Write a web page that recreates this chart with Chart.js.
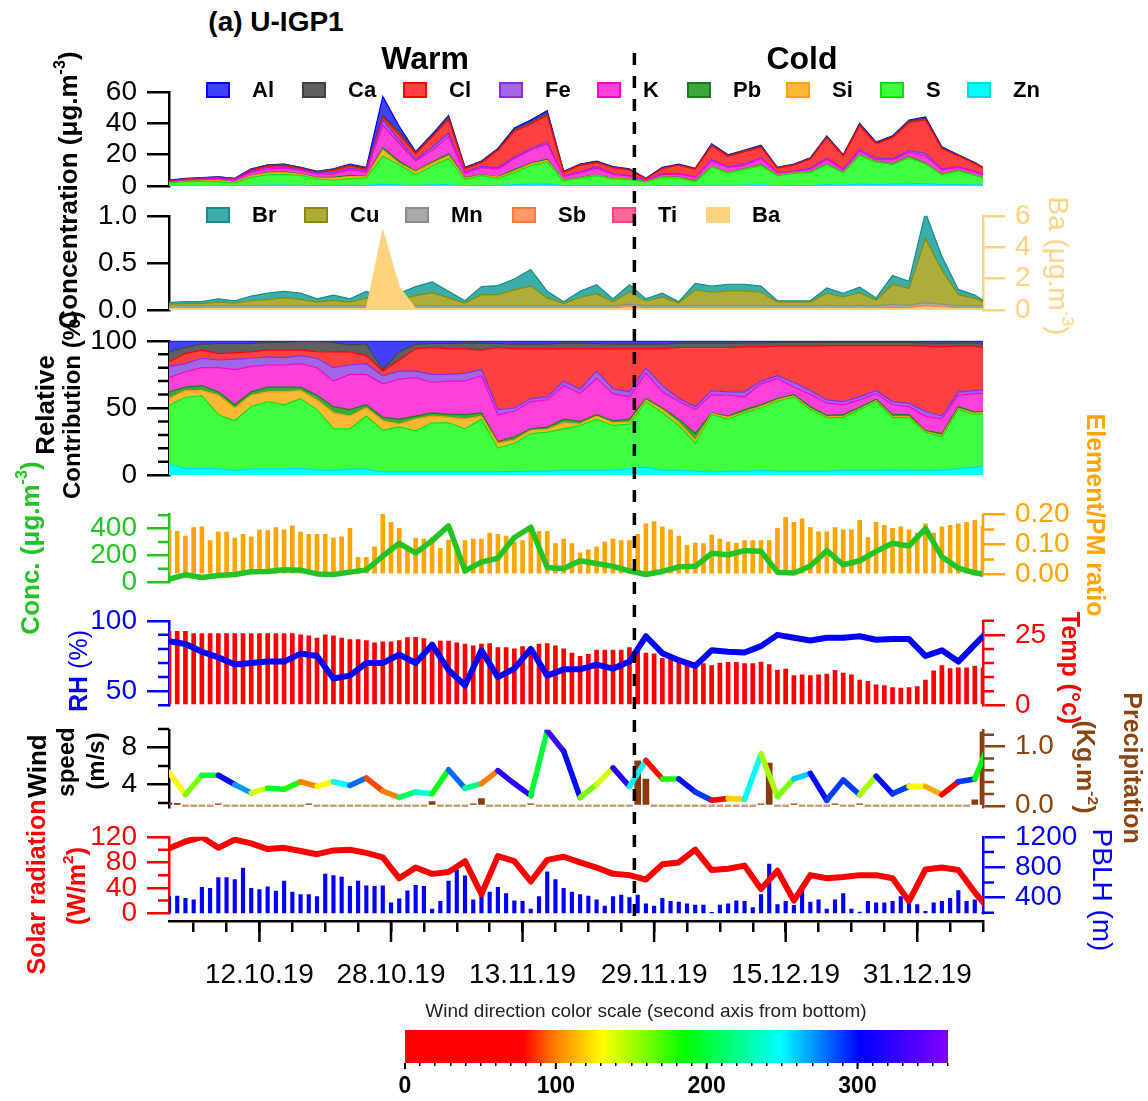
<!DOCTYPE html>
<html>
<head>
<meta charset="utf-8">
<title>U-IGP1</title>
<script src="https://cdn.jsdelivr.net/npm/chart.js@4.4.1/dist/chart.umd.min.js"></script>
<style>
  body { margin: 0; background: #fff; }
  #fig { position: relative; width: 1148px; height: 1101px; overflow: hidden;
         font-family: "Liberation Sans", Arial, sans-serif; color: #000; }
  #fig canvas { position: absolute; left: 0; }
  .t { position: absolute; white-space: nowrap; line-height: 1; }
  .t sup { font-size: 0.62em; line-height: 0; vertical-align: 0.75em; }
  .box { position: absolute; width: 24px; height: 16px; box-sizing: border-box; border: 2px solid; }
  svg { position: absolute; left: 0; top: 0; }
</style>
</head>
<body>
<div id="fig"></div>
<script>
// x axis = days since 01.10.19
const dateTicks = ['12.10.19', '28.10.19', '13.11.19', '29.11.19', '15.12.19', '31.12.19'];
const dateTickDays = [11, 27, 43, 59, 75, 91];
const seasons = ['Warm', 'Cold'];
const seasonSplitDay = 56.6;

// sampling days: most series every 2nd day, bars daily
const days2 = Array.from({ length: 51 }, (_, i) => 2 * i);
const days1 = Array.from({ length: 100 }, (_, i) => i);

// top panel: total of major elements (ug/m3)
const totalConc = [3.8, 5, 5.4, 6, 5, 11, 13.5, 14, 12, 9.5,
  11, 14, 12, 57, 38, 22, 33, 45, 12, 16,
  24, 37, 42, 48, 9.5, 14, 16, 12.5, 11, 5,
  12, 14, 11.4, 27, 20, 23, 26, 12, 14, 18,
  32, 20, 40, 28, 32, 42, 44, 25, 20, 15, 9];

// relative contribution of each element (%)
const shareZn = [8, 5, 5, 4.8, 3.6, 4.8, 4.8, 4.8, 5, 4,
  3.6, 4.5, 4.5, 2.4, 2.4, 2.4, 2.4, 2.4, 2.4, 2.4,
  2.4, 2.6, 3, 3, 3.6, 3.6, 3.6, 4, 4.8, 6,
  3.6, 3.6, 3, 2.4, 3, 3, 3.6, 3, 3, 3,
  3, 3.6, 3.6, 3.6, 4, 3.6, 3.6, 4, 4.8, 6, 8];
const shareS = [44, 53, 54, 40.2, 36.9, 46.2, 50, 47.6, 52, 44.8,
  30.9, 30, 39.5, 30.9, 33.6, 30.6, 36.6, 36.6, 32.1, 39.3,
  17.8, 21.2, 28, 29, 30.9, 33.4, 38.1, 33, 33.2, 48.8,
  42.8, 33.4, 20.8, 42.8, 38.7, 43.4, 46.4, 52, 55.3, 45.8,
  39.9, 39.3, 45.2, 51.2, 38.9, 39.3, 28.4, 24.6, 44, 39.2, 38];
const shareSi = [5, 5, 4, 14.5, 9.5, 8.5, 7.2, 9.6, 6, 7.2,
  11.9, 9.5, 6, 7.2, 2, 8.7, 5, 4, 7.2, 2.3,
  3.6, 2.2, 2.3, 2, 4.5, 1, 2.3, 2, 1.5, 1.2,
  2.4, 2, 2.2, 0.8, 1.3, 0.6, 1, 1, 0.7, 0.7,
  0.6, 0.6, 0.7, 0.7, 0.6, 0.6, 0.5, 0.9, 0.7, 0.8, 1];
const sharePb = [5, 2.5, 3.7, 2.5, 2.4, 2.5, 3.5, 3.5, 2.5, 3.5,
  4.6, 4.8, 2.4, 2.5, 3.7, 2.3, 2.4, 2.5, 3.3, 2.4,
  1.2, 2.6, 1.2, 1.7, 2.7, 2, 1, 1.5, 2.2, 1,
  1.2, 2.7, 5, 0.4, 1, 1.8, 1.4, 1, 1, 1.5,
  1, 1.5, 1, 1, 1.5, 1.5, 0.8, 1.5, 1.5, 1, 1];
const shareK = [10.6, 11.5, 13.3, 18, 26.2, 19, 16.5, 16.5, 17.5, 20.5,
  19, 26.2, 22.6, 25, 29.7, 28.6, 22.6, 24.5, 25, 27.6,
  20, 19, 20.3, 20.3, 25, 21, 27, 20.2, 16.6, 19,
  12, 13.1, 17.8, 13.6, 15.5, 9.5, 15.6, 15, 5.5, 9,
  9.1, 7.4, 5.5, 4.2, 7.4, 6, 10.7, 10.7, 8.5, 13.7, 13];
const shareFe = [8.4, 6, 7, 5.7, 7.8, 6, 6, 5.5, 6, 7,
  10, 7, 8, 6, 6, 4.8, 6, 5, 6, 4.6,
  3.8, 2.4, 2.2, 2.3, 3.3, 3, 5.4, 3.6, 3.7, 3.8,
  4.7, 2.2, 2.2, 3, 2.5, 3.7, 2, 2, 3.5, 3,
  2.4, 2.4, 2.3, 2.3, 2.4, 2.6, 3.6, 2.3, 2.5, 2.3, 3];
const shareCl = [3.5, 7.5, 6, 4.8, 4.6, 4.7, 5, 5.5, 4, 5,
  11.7, 9.7, 6, 3.4, 8.3, 16.6, 20, 19, 18, 14.4,
  46.2, 44, 37, 35.7, 24, 30, 16.6, 29.7, 32, 14.2,
  27.3, 38, 44, 32, 33, 33.5, 25.5, 22, 27, 33,
  40.4, 41.6, 38.1, 33.4, 41.6, 42.8, 48.4, 51.5, 34, 33, 30];
const shareCa = [7.2, 4.5, 4.6, 7.5, 7, 6.3, 5.8, 5.8, 6.3, 7.3,
  7.1, 5.3, 8.6, 1.2, 6, 3.6, 3, 4, 4.3, 5.3,
  3, 3.6, 3.6, 3.6, 4.3, 4.3, 4, 3.6, 3.6, 3.6,
  3.6, 3.3, 3.3, 3.3, 3.3, 3, 3, 2.8, 2.8, 2.8,
  2.4, 2.4, 2.4, 2.4, 2.4, 2.4, 2.5, 2.8, 2.5, 2.5, 2];
const shareAl = [8.3, 5, 2.4, 2, 2, 2, 1.2, 1.2, 0.7, 0.7,
  1.2, 3, 2.4, 21.4, 8.3, 2.4, 2, 2, 1.7, 1.7,
  2, 2.4, 2.4, 2.4, 1.7, 1.7, 2, 2.4, 2.4, 2.4,
  2.4, 1.7, 1.7, 1.7, 1.7, 1.5, 1.5, 1.2, 1.2, 1.2,
  1.2, 1.2, 1.2, 1.2, 1.2, 1.2, 1.5, 1.7, 1.5, 1.5, 4];

// trace elements (ug/m3)
const concTi = [0.01, 0.01, 0.01, 0.01, 0.01, 0.01, 0.01, 0.01, 0.01, 0.01,
  0.01, 0.01, 0.01, 0.01, 0.01, 0.01, 0.01, 0.01, 0.01, 0.01,
  0.01, 0.01, 0.01, 0.01, 0.01, 0.01, 0.01, 0.01, 0.015, 0.01,
  0.01, 0.01, 0.01, 0.01, 0.01, 0.01, 0.01, 0.01, 0.01, 0.01,
  0.01, 0.01, 0.01, 0.01, 0.012, 0.012, 0.02, 0.015, 0.01, 0.01, 0.01];
const concSb = [0.015, 0.015, 0.015, 0.015, 0.015, 0.015, 0.015, 0.015, 0.015, 0.015,
  0.015, 0.015, 0.015, 0.015, 0.015, 0.015, 0.015, 0.015, 0.015, 0.015,
  0.015, 0.015, 0.015, 0.015, 0.015, 0.015, 0.015, 0.015, 0.03, 0.015,
  0.015, 0.015, 0.015, 0.015, 0.015, 0.015, 0.015, 0.015, 0.015, 0.015,
  0.015, 0.015, 0.015, 0.015, 0.02, 0.015, 0.03, 0.02, 0.015, 0.015, 0.015];
const concMn = [0.02, 0.02, 0.02, 0.02, 0.02, 0.02, 0.02, 0.02, 0.02, 0.02,
  0.02, 0.02, 0.02, 0.02, 0.02, 0.02, 0.02, 0.02, 0.02, 0.02,
  0.02, 0.02, 0.02, 0.02, 0.02, 0.02, 0.02, 0.02, 0.02, 0.02,
  0.02, 0.02, 0.025, 0.025, 0.025, 0.025, 0.025, 0.02, 0.02, 0.02,
  0.025, 0.02, 0.025, 0.02, 0.03, 0.025, 0.03, 0.03, 0.02, 0.02, 0.02];
const concCu = [0.02, 0.025, 0.025, 0.04, 0.03, 0.055, 0.07, 0.085, 0.07, 0.04,
  0.06, 0.04, 0.085, 0.05, 0.07, 0.11, 0.14, 0.085, 0.03, 0.12,
  0.12, 0.17, 0.21, 0.085, 0.025, 0.09, 0.13, 0.045, 0.13, 0.05,
  0.095, 0.03, 0.165, 0.14, 0.155, 0.155, 0.14, 0.04, 0.04, 0.04,
  0.13, 0.095, 0.135, 0.06, 0.21, 0.18, 0.68, 0.36, 0.12, 0.08, 0.005];
const concBr = [0.015, 0.02, 0.02, 0.035, 0.025, 0.05, 0.065, 0.07, 0.065, 0.035,
  0.055, 0.035, 0.07, 0.045, 0.065, 0.095, 0.115, 0.07, 0.025, 0.085,
  0.095, 0.115, 0.175, 0.07, 0.02, 0.065, 0.095, 0.03, 0.075, 0.025,
  0.04, 0.015, 0.07, 0.065, 0.07, 0.07, 0.065, 0.015, 0.015, 0.015,
  0.055, 0.04, 0.06, 0.025, 0.095, 0.075, 0.275, 0.145, 0.055, 0.035, 0];
const concBa = [0.1, 0.1, 0.1, 0.12, 0.1, 0.1, 0.12, 0.1, 0.1, 0.1,
  0.1, 0.1, 0.1, 5.1, 1.5, 0.1, 0.1, 0.12, 0.1, 0.1,
  0.1, 0.1, 0.1, 0.1, 0.1, 0.1, 0.1, 0.1, 0.15, 0.1,
  0.1, 0.1, 0.1, 0.1, 0.1, 0.1, 0.1, 0.1, 0.1, 0.1,
  0.1, 0.1, 0.1, 0.1, 0.1, 0.1, 0.2, 0.15, 0.1, 0.1, 0.1];

// PM conc (ug/m3) and element/PM ratio (daily)
const pmConc = [23, 55, 35, 50, 57, 78, 80, 92, 90, 62,
  57, 75, 92, 195, 290, 218, 310, 420, 85, 150,
  180, 333, 410, 110, 103, 160, 140, 118, 85, 57,
  80, 115, 118, 215, 205, 235, 230, 75, 69, 120,
  235, 130, 160, 230, 290, 270, 400, 190, 105, 70, 50];
const elemRatio = [0.149, 0.144, 0.128, 0.156, 0.159, 0.113, 0.142, 0.141, 0.121, 0.134,
  0.125, 0.148, 0.146, 0.156, 0.149, 0.162, 0.141, 0.134, 0.134, 0.134,
  0.121, 0.125, 0.154, 0.057, 0.057, 0.092, 0.2, 0.174, 0.154, 0.09,
  0.12, 0.118, 0.123, 0.087, 0.115, 0.082, 0.113, 0.118, 0.118, 0.138,
  0.134, 0.128, 0.108, 0.113, 0.144, 0.144, 0.144, 0.103, 0.118, 0.103,
  0.072, 0.082, 0.092, 0.108, 0.118, 0.113, 0.113, 0.134, 0.169, 0.176,
  0.159, 0.149, 0.128, 0.097, 0.105, 0.103, 0.131, 0.118, 0.108, 0.105,
  0.113, 0.113, 0.113, 0.113, 0.154, 0.19, 0.174, 0.185, 0.156, 0.142,
  0.142, 0.156, 0.149, 0.149, 0.18, 0.123, 0.174, 0.164, 0.154, 0.159,
  0.149, 0.138, 0.169, 0.138, 0.159, 0.164, 0.169, 0.174, 0.18, 0.16];

// meteorology
const rh = [85.5, 83.5, 78, 74, 69, 70, 71, 71, 76.7, 75,
  59, 61, 70, 70, 76, 70, 83, 65, 54, 79,
  60, 66, 80, 61, 65.5, 65.5, 68.9, 66, 71, 89,
  77, 72, 68, 79, 78, 77.5, 82, 90, 88, 86,
  88, 88, 89, 86.5, 87, 87, 75, 79, 71, 83, 95];
const temp = [26.3, 26.3, 26.3, 25.5, 25.5, 25.5, 25.5, 25.5, 25.5, 25.5,
  25.5, 25.5, 25.5, 25.5, 25.5, 25.5, 25, 24.7, 23.9, 25,
  24.7, 23.9, 23.3, 23.3, 23, 22.2, 22.5, 22.5, 23, 24,
  24.1, 23.7, 22.2, 22.8, 22.8, 22.2, 21.7, 21.1, 21.7, 21.9,
  20.5, 20.5, 20, 20.8, 20.5, 21.7, 21.9, 21.1, 20, 18.5,
  17.4, 18.1, 19.6, 19.6, 19.6, 19.6, 20.5, 19.4, 18.5, 18.3,
  16.7, 16.3, 15.2, 15, 15, 14.8, 14.1, 15, 15.2, 15.2,
  14.8, 14.8, 15.3, 14.4, 12.5, 12.8, 10.5, 10.8, 10.5, 10.8,
  11.1, 12.4, 11.4, 10.8, 8.9, 8.5, 7.2, 7, 6.3, 6.1,
  6.3, 6.6, 8.9, 12.2, 14.1, 13, 13.3, 13.3, 13.9, 13.3];
const windSpeed = [5.3, 2.9, 5.0, 5.0, 4.0, 3.1, 3.6, 3.5, 4.3, 3.8,
  4.3, 3.9, 4.7, 3.3, 2.6, 3.2, 3.0, 5.6, 3.6, 4.1,
  5.5, 4.1, 2.8, 9.8, 7.6, 2.6, 4.0, 5.8, 3.8, 6.6,
  4.6, 4.6, 3.2, 2.3, 2.5, 2.4, 7.3, 2.7, 4.6, 5.2,
  2.3, 4.5, 2.9, 4.9, 3.0, 3.8, 3.8, 2.9, 4.3, 4.6, 9.0];
const windDir = [130, 160, 200, 300, 270, 140, 195, 180, 100, 130,
  250, 280, 90, 100, 210, 240, 190, 280, 220, 100,
  320, 320, 200, 330, 300, 160, 140, 320, 250, 80,
  180, 300, 290, 20, 120, 250, 150, 160, 260, 300,
  290, 290, 150, 300, 290, 130, 110, 20, 290, 190, 60];
const precip = [0.05, 0.04, 0, 0, 0, 0, 0.02, 0, 0, 0,
  0, 0, 0, 0, 0, 0, 0, 0.03, 0, 0,
  0, 0, 0, 0, 0, 0, 0, 0, 0, 0,
  0, 0, 0.07, 0, 0, 0, 0, 0.02, 0.12, 0,
  0, 0, 0, 0, 0.01, 0, 0, 0, 0, 0,
  0, 0, 0, 0, 0, 0, 0, 0.76, 0.45, 0,
  0, 0, 0, 0, 0, 0, 0, 0, 0, 0,
  0, 0, 0.03, 0.72, 0, 0, 0.01, 0, 0, 0,
  0, 0.01, 0, 0, 0.01, 0, 0, 0, 0, 0,
  0, 0, 0, 0, 0, 0, 0, 0, 0.1, 1.25];
const solar = [102, 113, 120, 103, 116, 110, 101, 103, 98, 93,
  99, 100, 95, 88, 55, 72, 62, 65, 82, 30,
  90, 82, 50, 84, 89, 80, 72, 62, 60, 53,
  77, 80, 100, 68, 70, 75, 38, 67, 20, 60,
  55, 57, 60, 60, 55, 19, 69, 72, 68, 33, 2];
const pblh = [412, 420, 391, 370, 535, 522, 665, 665, 636, 787,
  522, 505, 542, 485, 616, 473, 440, 440, 412, 710,
  689, 669, 547, 616, 555, 547, 555, 330, 385, 490,
  560, 547, 248, 350, 616, 767, 685, 370, 473, 473,
  535, 452, 358, 350, 248, 412, 738, 636, 522, 473,
  440, 420, 370, 289, 412, 432, 400, 432, 318, 289,
  391, 350, 342, 318, 301, 301, 205, 301, 318, 358,
  350, 269, 440, 841, 309, 350, 300, 555, 342, 370,
  248, 370, 452, 248, 211, 350, 330, 330, 350, 412,
  350, 309, 220, 330, 350, 391, 493, 350, 370, 200];

// ---------- layout / style ----------
const W = 1148, AREA_L = 169, AREA_R = 983, PAD = 24;
const FAM = '"Liberation Sans", Arial, sans-serif';
const FONT = { family: FAM, size: 28 };
const GREEN = '#22C322', ORANGE = '#FFA500', BLUE = '#0000FF', RED = '#FF0000',
  BROWN = '#8B4513', BA = '#FFD27F';

const elemStyle = {
  Zn: ['#00FFFF', '#00DCDC'], S: ['#40FF40', '#10E010'], Si: ['#FFB833', '#FFA000'],
  Pb: ['#3DA63D', '#1E7A1E'], K: ['#FF40D9', '#FF00CC'], Fe: ['#A066E6', '#8A2BE2'],
  Cl: ['#FF4040', '#FF0000'], Ca: ['#606060', '#404040'], Al: ['#4040FF', '#0000FF'],
  Br: ['#3AAFA9', '#168C8C'], Cu: ['#ADAD3A', '#8A8A00'], Mn: ['#AAAAAA', '#8C8C8C'],
  Sb: ['#FF9966', '#FF7A3D'], Ti: ['#FF6699', '#FF3D7A'], Ba: [BA, BA]
};
const windStops = [[0, [255, 0, 0]], [78, [255, 0, 0]], [100, [255, 128, 0]], [131, [255, 255, 0]],
  [186, [0, 255, 0]], [249, [0, 255, 255]], [302, [0, 0, 255]], [360, [128, 0, 255]]];

function windColor(d) {
  for (let k = 1; k < windStops.length; k++) {
    const [d0, c0] = windStops[k - 1], [d1, c1] = windStops[k];
    if (d <= d1) {
      const f = (d - d0) / (d1 - d0);
      return 'rgb(' + c0.map((v, j) => Math.round(v + (c1[j] - v) * f)).join(',') + ')';
    }
  }
  return 'rgb(128,0,255)';
}

const fig = document.getElementById('fig');

function addText(html, cx, cy, css, rot, anchor) {
  const d = document.createElement('div');
  d.className = 't';
  d.innerHTML = html;
  d.style.cssText += css;
  d.style.left = cx + 'px';
  d.style.top = cy + 'px';
  const tr = anchor === 'left' ? 'translate(0,-50%)' : 'translate(-50%,-50%)';
  d.style.transform = tr + ' rotate(' + (rot || 0) + 'deg)';
  fig.appendChild(d);
}

function addCanvas(top, height) {
  const c = document.createElement('canvas');
  c.width = W;
  c.height = height;
  c.style.top = top + 'px';
  fig.appendChild(c);
  return c.getContext('2d');
}

const xy = (days, vals) => vals.map((v, i) => ({ x: days[i], y: v }));
const tickList = (a, b, step) => { const t = []; for (let v = a; v <= b + 1e-9; v += step) t.push({ value: v }); return t; };

// short ticks (and optional axis line) that Chart.js has no option for
function minorTicks(spec) {
  return {
    id: 'minorTicks',
    afterDraw(chart) {
      const c = chart.ctx;
      for (const id in spec) {
        const s = chart.scales[id], o = spec[id];
        c.save();
        c.strokeStyle = o.color || s.options.border.color;
        c.lineWidth = o.width || 2.5;
        c.beginPath();
        const x0 = s.position === 'left' ? s.right : s.left, dir = s.position === 'left' ? -1 : 1;
        for (const v of o.values) {
          if (s.isHorizontal()) {
            const x = s.getPixelForValue(v);
            c.moveTo(x, s.top); c.lineTo(x, s.top + o.len);
          } else {
            const y = s.getPixelForValue(v);
            c.moveTo(x0, y); c.lineTo(x0 + dir * o.len, y);
          }
        }
        if (o.line) {
          c.moveTo(x0, s.getPixelForValue(o.line[0]));
          c.lineTo(x0, s.getPixelForValue(o.line[1]));
        }
        c.stroke();
        c.restore();
      }
    }
  };
}

function yAxis(pos, color, min, max, majors, fmt, extra) {
  return Object.assign({
    type: 'linear', position: pos, min, max,
    afterBuildTicks: s => { s.ticks = majors.map(v => ({ value: v })); },
    afterFit: s => { s.width = pos === 'left' ? AREA_L : W - AREA_R; },
    grid: { drawOnChartArea: false, tickLength: 22, color, lineWidth: 2.5 },
    border: { color, width: 2.5 },
    ticks: { color, font: FONT, padding: 10, autoSkip: false, callback: v => fmt ? fmt(v) : String(v) }
  }, extra || {});
}

function panel(top, bottom, datasets, scales, minor, rightPad) {
  const ctx = addCanvas(top - PAD, bottom - top + 2 * PAD);
  return new Chart(ctx, {
    type: 'line',
    data: { datasets },
    options: {
      responsive: false, animation: false, events: [],
      layout: { padding: { top: PAD, bottom: PAD, left: 0, right: rightPad || 0 } },
      plugins: { legend: { display: false }, tooltip: { enabled: false } },
      elements: { point: { radius: 0 }, line: { tension: 0 } },
      scales: Object.assign({ x: { type: 'linear', min: 0, max: 99, display: false, offset: false } }, scales)
    },
    plugins: [minorTicks(minor || {})]
  });
}

function area(name, data, k, axis) {
  const st = elemStyle[name];
  return { type: 'line', label: name, data, backgroundColor: st[0], borderColor: st[1], borderWidth: 1.2,
    fill: k === 0 ? 'origin' : '-1', pointRadius: 0, yAxisID: axis || 'y' };
}
function line(data, color, axis, extra) {
  return Object.assign({ type: 'line', data, borderColor: color, borderWidth: 5.5, pointRadius: 0,
    borderJoinStyle: 'round', borderCapStyle: 'round', yAxisID: axis }, extra || {});
}
function bars(data, color, thick, axis, extra) {
  return Object.assign({ type: 'bar', data, backgroundColor: color, barThickness: thick, yAxisID: axis }, extra || {});
}

// ---------- panel 1: concentrations of major elements ----------
const stackNames = ['Zn', 'S', 'Si', 'Pb', 'K', 'Fe', 'Cl', 'Ca', 'Al'];
const shares = { Zn: shareZn, S: shareS, Si: shareSi, Pb: sharePb, K: shareK, Fe: shareFe, Cl: shareCl, Ca: shareCa, Al: shareAl };
panel(89, 189,
  stackNames.map((n, k) => area(n, xy(days2, totalConc.map((t, i) => t * shares[n][i] / 100)), k)),
  { y: yAxis('left', '#000', 0, 60, [0, 20, 40, 60], null, { stacked: true }) },
  {}, W - AREA_R);

// ---------- panel 2: trace elements ----------
const traceNames = ['Ti', 'Sb', 'Mn', 'Cu', 'Br'];
const traces = { Ti: concTi, Sb: concSb, Mn: concMn, Cu: concCu, Br: concBr };
const p2sets = traceNames.map((n, k) => area(n, xy(days2, traces[n]), k));
p2sets.push(Object.assign(area('Ba', xy(days2, concBa), 0, 'y2'), { order: -1, borderWidth: 1 }));
panel(213, 313, p2sets, {
  y: yAxis('left', '#000', 0, 1, [0, 0.5, 1], v => v.toFixed(1), { stacked: true }),
  y2: yAxis('right', BA, 0, 6, [0, 2, 4, 6])
});

// ---------- panel 3: relative contribution ----------
panel(338, 478,
  stackNames.map((n, k) => area(n, xy(days2, shares[n]), k)),
  { y: yAxis('left', '#000', 0, 100, [0, 50, 100], null, { stacked: true }) },
  { y: { values: [10, 20, 30, 40, 60, 70, 80, 90], len: 11 } }, W - AREA_R);

// ---------- panel 4: PM conc + element/PM ratio ----------
panel(511, 585, [
  line(xy(days2, pmConc), GREEN, 'y'),
  bars(xy(days1, elemRatio), ORANGE, 4, 'y2')
], {
  y: yAxis('left', GREEN, 0, 510, [0, 200, 400]),
  y2: yAxis('right', ORANGE, -0.0255, 0.202, [0, 0.1, 0.2], v => v.toFixed(2), { border: { display: false } })
}, {
  y: { values: [100, 300, 500], len: 11 },
  y2: { values: [0.05, 0.15], len: 11, line: [0, 0.202], color: ORANGE }
});

// ---------- panel 5: RH + temperature ----------
panel(618, 708, [
  line(xy(days2, rh), BLUE, 'y', { borderWidth: 6 }),
  bars(xy(days1, temp), RED, 4, 'y2')
], {
  y: yAxis('left', BLUE, 40, 100, [50, 100]),
  y2: yAxis('right', RED, 0, 30, [0, 25])
}, {
  y: { values: [40, 60, 70, 80, 90], len: 11 },
  y2: { values: [5, 10, 15, 20, 30], len: 11 }
});

// ---------- panel 6: wind speed (coloured by direction) + precipitation ----------
panel(727, 810, [
  line(xy(days2, windSpeed), BLUE, 'y', { segment: { borderColor: c => windColor(windDir[c.p0DataIndex]) } }),
  bars(xy(days1, precip), c => (c.parsed && c.parsed.y > 0 ? '#8B3A0E' : '#C9A07C'), 6, 'y2', { minBarLength: 2 })
], {
  y: yAxis('left', '#000', 1.55, 9.91, [4, 8]),
  y2: yAxis('right', BROWN, -0.024, 1.283, [0, 1], v => v.toFixed(1))
}, {
  y: { values: [2, 6, 10], len: 11 },
  y2: { values: [0.2, 0.4, 0.6, 0.8, 1.2], len: 11 }
});

// ---------- panel 7: solar radiation + PBLH ----------
panel(834, 916, [
  line(xy(days2, solar), RED, 'y', { borderWidth: 6 }),
  bars(xy(days1, pblh), BLUE, 3.5, 'y2')
], {
  y: yAxis('left', RED, 0, 120.4, [0, 40, 80, 120]),
  y2: yAxis('right', BLUE, 195, 1200, [400, 800, 1200])
}, {
  y: { values: [20, 60, 100], len: 11 },
  y2: { values: [200, 600, 1000], len: 11 }
});

// ---------- shared date axis ----------
const xChart = new Chart(addCanvas(890, 131), {
  type: 'line',
  data: { datasets: [] },
  options: {
    responsive: false, animation: false, events: [],
    layout: { padding: { left: AREA_L, right: W - AREA_R, top: 30, bottom: 0 } },
    plugins: { legend: { display: false }, tooltip: { enabled: false } },
    scales: {
      x: {
        type: 'linear', min: 0, max: 99,
        afterBuildTicks: s => { s.ticks = tickList(3, 99, 4); },
        afterFit: s => { s.height = 100; },
        grid: { drawOnChartArea: false, tickLength: 11, color: '#000', lineWidth: 2.5 },
        border: { color: '#000', width: 2.5 },
        ticks: { color: '#000', font: FONT, padding: 26, autoSkip: false, maxRotation: 0,
          callback: v => { const k = dateTickDays.indexOf(v); return k < 0 ? '' : dateTicks[k]; } }
      },
      y: { display: false }
    }
  },
  plugins: [minorTicks({ x: { values: dateTickDays, len: 21 } })]
});

// ---------- wind direction colour bar ----------
const gradientPlugin = {
  id: 'windGradient',
  beforeDraw(chart) {
    const { ctx, chartArea: a } = chart;
    const g = ctx.createLinearGradient(a.left, 0, a.right, 0);
    windStops.forEach(([d, c]) => g.addColorStop(d / 360, 'rgb(' + c.join(',') + ')'));
    ctx.fillStyle = g;
    ctx.fillRect(a.left, a.top, a.right - a.left, a.bottom - a.top);
  }
};
new Chart(addCanvas(1000, 101), {
  type: 'line',
  data: { datasets: [] },
  options: {
    responsive: false, animation: false, events: [],
    layout: { padding: { left: 405, right: W - 948, top: 30, bottom: 0 } },
    plugins: { legend: { display: false }, tooltip: { enabled: false } },
    scales: {
      x: {
        type: 'linear', min: 0, max: 360,
        afterBuildTicks: s => { s.ticks = tickList(0, 360, 10); },
        afterFit: s => { s.height = 38; },
        grid: { drawOnChartArea: false, tickLength: 3, color: '#000', lineWidth: 1.5 },
        border: { display: false },
        ticks: { color: '#000', font: { family: FAM, size: 23, weight: 'bold' }, padding: 7, autoSkip: false, maxRotation: 0,
          callback: v => (v % 100 === 0 ? String(v) : '') }
      },
      y: { display: false }
    }
  },
  plugins: [gradientPlugin, minorTicks({ x: { values: [0, 100, 200, 300], len: 6, width: 2, color: '#000' } })]
});

// ---------- texts ----------
addText('(a) U-IGP1', 276, 22, 'font-size:28px;font-weight:bold;');
addText(seasons[0], 425, 58, 'font-size:32px;font-weight:bold;');
addText(seasons[1], 802, 58, 'font-size:32px;font-weight:bold;');

addText('Concentration (μg.m<sup>-3</sup>)', 68, 190, 'font-size:26px;font-weight:bold;', -90);
addText('Relative', 45, 405, 'font-size:26px;font-weight:bold;', -90);
addText('Contribution (%)', 72, 405, 'font-size:24px;font-weight:bold;', -90);
addText('Conc. (μg.m<sup>-3</sup>)', 30, 548, 'font-size:26px;font-weight:bold;color:' + GREEN + ';', -90);
addText('<b>RH</b> (%)', 78, 671, 'font-size:25px;color:' + BLUE + ';', -90);
addText('Wind', 37, 766, 'font-size:26px;font-weight:bold;', -90);
addText('speed', 66, 762, 'font-size:24px;font-weight:bold;', -90);
addText('(m/s)', 96, 761, 'font-size:24px;font-weight:bold;', -90);
addText('Solar radiation', 36, 887, 'font-size:25px;font-weight:bold;color:' + RED + ';', -90);
addText('(W/m<sup>2</sup>)', 76, 886, 'font-size:25px;font-weight:bold;color:' + RED + ';', -90);

addText('Ba (μg.m<sup>-3</sup>)', 1058, 266, 'font-size:28px;color:' + BA + ';', 90);
addText('Element/PM ratio', 1095, 515, 'font-size:25px;font-weight:bold;color:' + ORANGE + ';', 90);
addText('Temp (°c)', 1070, 668, 'font-size:25px;font-weight:bold;color:' + RED + ';', 90);
addText('(Kg.m<sup>-2</sup>)', 1085, 767, 'font-size:25px;font-weight:bold;color:' + BROWN + ';', 90);
addText('Precipitation', 1132, 768, 'font-size:25px;font-weight:bold;color:' + BROWN + ';', 90);
addText('PBLH (m)', 1102, 890, 'font-size:28px;color:' + BLUE + ';', 90);

addText('Wind direction color scale (second axis from bottom)', 646, 1010, 'font-size:19px;color:#222;');

// legends
function legendRow(names, xs, cy) {
  names.forEach((n, k) => {
    const b = document.createElement('div');
    b.className = 'box';
    b.style.left = xs[k] + 'px';
    b.style.top = (cy - 8) + 'px';
    b.style.background = elemStyle[n][0];
    b.style.borderColor = elemStyle[n][1];
    fig.appendChild(b);
    addText(n, xs[k] + 46, cy, 'font-size:22px;font-weight:bold;', 0, 'left');
  });
}
legendRow(['Al', 'Ca', 'Cl', 'Fe', 'K', 'Pb', 'Si', 'S', 'Zn'], [206, 302, 403, 499, 597, 687, 786, 880, 967], 90);
legendRow(['Br', 'Cu', 'Mn', 'Sb', 'Ti', 'Ba'], [206, 304, 405, 512, 612, 706], 215);

// warm / cold divider
const xd = xChart.scales.x.getPixelForValue(seasonSplitDay);
const svgNS = 'http://www.w3.org/2000/svg';
const svg = document.createElementNS(svgNS, 'svg');
svg.setAttribute('width', W);
svg.setAttribute('height', 1101);
const ln = document.createElementNS(svgNS, 'line');
ln.setAttribute('x1', xd); ln.setAttribute('x2', xd);
ln.setAttribute('y1', 53); ln.setAttribute('y2', 921);
ln.setAttribute('stroke', '#000');
ln.setAttribute('stroke-width', 3.5);
ln.setAttribute('stroke-dasharray', '12 11');
svg.appendChild(ln);
fig.appendChild(svg);
</script>
</body>
</html>
